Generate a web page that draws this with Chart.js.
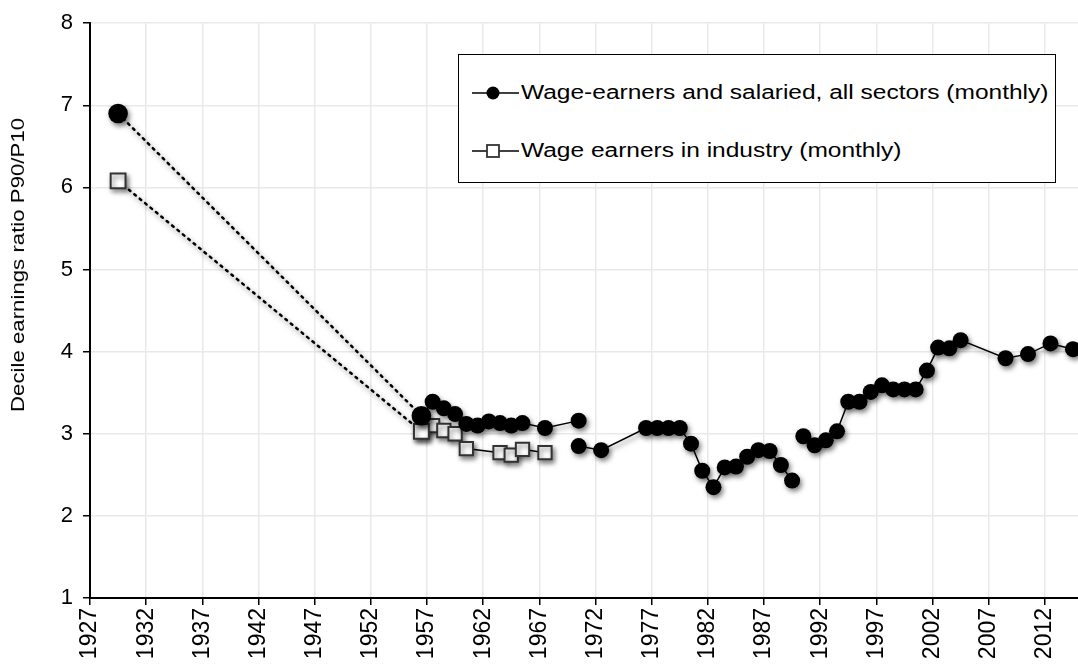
<!DOCTYPE html>
<html>
<head>
<meta charset="utf-8">
<script src="https://cdn.jsdelivr.net/npm/chart.js@4.4.0/dist/chart.umd.min.js"></script>
<style>
  html, body { margin: 0; padding: 0; background: #fff; }
  #wrap { position: relative; width: 1078px; height: 669px; overflow: hidden; }
  #legend {
    position: absolute; left: 458px; top: 54px; width: 598px; height: 129px;
    box-sizing: border-box; border: 1px solid #000; background: #fff;
    font-family: "Liberation Sans", Arial, sans-serif; font-size: 20px; color: #000;
  }
  .row { position: absolute; left: 13px; display: flex; align-items: center; white-space: nowrap; }
  .row svg { display: block; margin-right: 1px; }
  .row span { display: inline-block; transform: scaleX(1.225); transform-origin: left center; }
  #ytitle {
    position: absolute; left: 18px; top: 265px; white-space: nowrap;
    font-family: "Liberation Sans", Arial, sans-serif; font-size: 19px; color: #000;
    transform: translate(-50%, -50%) rotate(-90deg) scaleX(1.17);
  }
</style>
</head>
<body>
<div id="wrap">
  <canvas id="chart" width="1078" height="669"></canvas>
  <div id="ytitle">Decile earnings ratio P90/P10</div>
  <div id="legend">
    <div class="row" style="top:26px">
      <svg width="48" height="20"><line x1="0" y1="10" x2="47" y2="10" stroke="#000" stroke-width="1.5"/><circle cx="21" cy="10" r="6.5" fill="#000"/></svg>
      <span>Wage-earners and salaried, all sectors (monthly)</span>
    </div>
    <div class="row" style="top:84px">
      <svg width="48" height="20"><line x1="0" y1="10" x2="47" y2="10" stroke="#000" stroke-width="1.5"/><rect x="15" y="4" width="12" height="12" fill="#fff" stroke="#333" stroke-width="1.8"/></svg>
      <span>Wage earners in industry (monthly)</span>
    </div>
  </div>
</div>
<script>
// years on the x axis that get a label
const tickYears = [1927, 1932, 1937, 1942, 1947, 1952, 1957, 1962, 1967, 1972, 1977, 1982, 1987, 1992, 1997, 2002, 2007, 2012];

// wage-earners and salaried, all sectors (three segments, the source changes in 1970 and 1990)
const allYearsA = [1956, 1957, 1958, 1959, 1960, 1961, 1962, 1963, 1964, 1965, 1967, 1970];
const allValsA  = [3.22, 3.39, 3.31, 3.24, 3.12, 3.10, 3.15, 3.13, 3.10, 3.13, 3.07, 3.16];
const allYearsB = [1970, 1972, 1976, 1977, 1978, 1979, 1980, 1981, 1982, 1983, 1984, 1985, 1986, 1987, 1988, 1989];
const allValsB  = [2.85, 2.80, 3.07, 3.07, 3.07, 3.07, 2.88, 2.55, 2.35, 2.59, 2.60, 2.72, 2.80, 2.79, 2.62, 2.43];
const allYearsC = [1990, 1991, 1992, 1993, 1994, 1995, 1996, 1997, 1998, 1999, 2000, 2001, 2002, 2003, 2004, 2008, 2010, 2012, 2014];
const allValsC  = [2.97, 2.86, 2.92, 3.03, 3.39, 3.39, 3.51, 3.59, 3.54, 3.54, 3.54, 3.77, 4.05, 4.04, 4.14, 3.92, 3.97, 4.10, 4.03];

// wage earners in industry
const indYears = [1956, 1957, 1958, 1959, 1960, 1963, 1964, 1965, 1967];
const indVals  = [3.03, 3.10, 3.04, 3.00, 2.82, 2.77, 2.74, 2.81, 2.77];

// 1929 benchmark joined to 1956 by a dotted line
const benchYears = [1929, 1956];
const benchAll   = [6.90, 3.22];
const benchInd   = [6.08, 3.03];

const pts = (xs, ys) => xs.map((x, i) => ({ x: x, y: ys[i] }));
const FONT = '"Liberation Sans", Arial, sans-serif';

const circleSet = (xs, ys) => ({
  data: pts(xs, ys), borderColor: '#000', borderWidth: 1.5, backgroundColor: '#000',
  pointStyle: 'circle', pointRadius: 8, pointBackgroundColor: '#000', pointBorderColor: '#000',
  pointBorderWidth: 0, tension: 0
});

const shadow = {
  id: 'shadow',
  beforeDatasetsDraw(chart) {
    const c = chart.ctx;
    c.save();
    c.shadowColor = 'rgba(0,0,0,0.5)';
    c.shadowBlur = 5;
    c.shadowOffsetX = 2;
    c.shadowOffsetY = 3;
  },
  afterDatasetsDraw(chart) { chart.ctx.restore(); }
};

new Chart(document.getElementById('chart'), {
  type: 'line',
  data: {
    datasets: [
      Object.assign(circleSet(benchYears, benchAll), { pointRadius: 9.8, borderWidth: 2.5, borderDash: [2, 5], borderCapStyle: 'round' }),
      circleSet(allYearsA, allValsA),
      circleSet(allYearsB, allValsB),
      circleSet(allYearsC, allValsC),
      {
        data: pts(benchYears, benchInd), borderColor: '#000', borderWidth: 2.5, borderDash: [2, 5], borderCapStyle: 'round',
        pointStyle: 'rect', pointRadius: 10.5, pointBackgroundColor: '#fff', pointBorderColor: '#333', pointBorderWidth: 2
      },
      {
        data: pts(indYears, indVals), borderColor: '#000', borderWidth: 1.5,
        pointStyle: 'rect', pointRadius: 9.4, pointBackgroundColor: '#fff', pointBorderColor: '#333', pointBorderWidth: 2
      }
    ]
  },
  options: {
    responsive: false,
    animation: false,
    events: [],
    layout: { autoPadding: false, padding: { top: 14, right: 0, bottom: 0, left: 0 } },
    plugins: { legend: { display: false }, tooltip: { enabled: false } },
    scales: {
      x: {
        type: 'linear', min: 1926.5, max: 2014.45,
        afterBuildTicks: (axis) => { axis.ticks = tickYears.map(v => ({ value: v - 0.5 })); },
        afterFit: (axis) => { axis.height = 71; axis.paddingLeft = 0; axis.paddingRight = 0; },
        ticks: {
          autoSkip: false, minRotation: 90, maxRotation: 90, padding: 3, color: '#000',
          font: { family: FONT, size: 23 },
          callback: (v, i) => String(tickYears[i])
        },
        grid: { color: '#e9e9e9', lineWidth: 1.5, tickColor: '#000', tickLength: 7 },
        border: { color: '#000', width: 2 }
      },
      y: {
        min: 1, max: 8,
        afterFit: (axis) => { axis.width = 90; },
        ticks: { stepSize: 1, padding: 10, color: '#000', font: { family: FONT, size: 22 } },
        grid: { color: '#e9e9e9', lineWidth: 1.5, tickColor: '#000', tickLength: 7 },
        border: { color: '#000', width: 2 }
      }
    }
  },
  plugins: [shadow]
});
</script>
</body>
</html>
